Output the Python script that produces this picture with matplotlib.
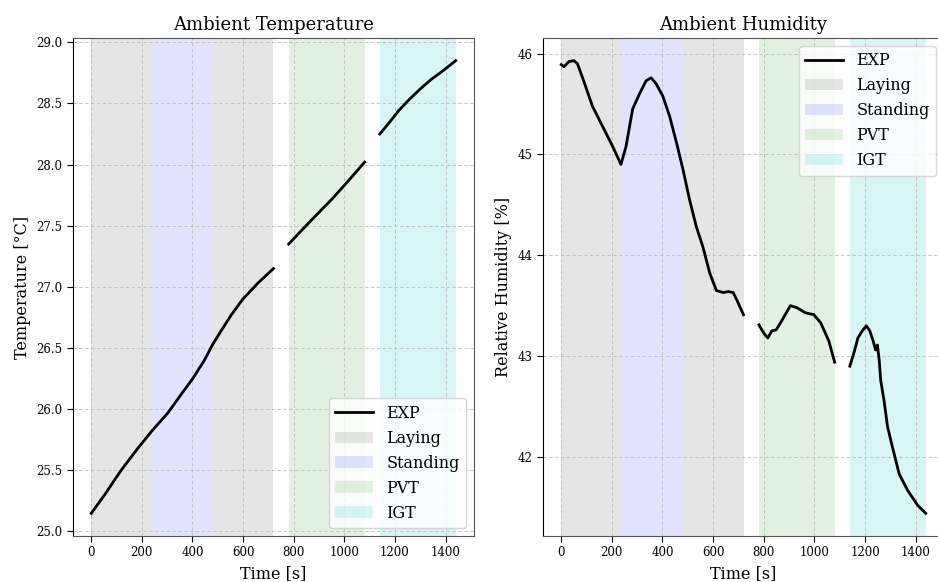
import numpy as np
import matplotlib
matplotlib.use("Agg")
import matplotlib.pyplot as plt

plt.rcParams['font.family'] = ['DejaVu Serif']

# fases do experimento (inicio, fim, nome, cor, alpha)
fases_ini = [0, 240, 480, 780, 1140]
fases_fim = [240, 480, 720, 1080, 1440]
fases_nome = ["Laying", "Standing", "Laying", "PVT", "IGT"]
fases_cor = ["gray", "blue", "gray", "green", "c"]
fases_alpha = [0.2, 0.11, 0.2, 0.11, 0.15]

# temperatura, tres trechos
temp_t1 = [0, 53, 118, 184, 243, 303, 355, 401, 447, 480, 513, 553, 599, 658, 720]
temp_v1 = [25.148, 25.30, 25.50, 25.68, 25.83, 25.97, 26.12, 26.25, 26.40, 26.53,
           26.64, 26.77, 26.90, 27.03, 27.15]
temp_t2 = [780, 830, 886, 952, 1017, 1080]
temp_v2 = [27.35, 27.46, 27.58, 27.72, 27.87, 28.02]
temp_t3 = [1140, 1180, 1214, 1260, 1306, 1345, 1385, 1440]
temp_v3 = [28.25, 28.35, 28.44, 28.54, 28.63, 28.70, 28.76, 28.85]

# umidade, tres trechos
umid_t1 = [0, 11, 30, 50, 64, 90, 123, 163, 203, 236, 256, 282, 309, 335, 355, 375,
           401, 428, 455, 481, 507, 534, 560, 587, 613, 640, 660, 679, 693, 720]
umid_v1 = [45.89, 45.87, 45.92, 45.93, 45.90, 45.72, 45.48, 45.28, 45.08, 44.90, 45.08,
           45.45, 45.60, 45.73, 45.76, 45.70, 45.58, 45.38, 45.12, 44.85, 44.55, 44.28,
           44.08, 43.82, 43.65, 43.63, 43.64, 43.63, 43.56, 43.41]
umid_t2 = [781, 799, 816, 832, 849, 871, 905, 931, 964, 998, 1025, 1057, 1080]
umid_v2 = [43.31, 43.23, 43.18, 43.25, 43.26, 43.35, 43.50, 43.48, 43.43, 43.41,
           43.33, 43.15, 42.94]
umid_t3 = [1140, 1156, 1172, 1189, 1205, 1219, 1232, 1242, 1249, 1256, 1262, 1275,
           1289, 1308, 1335, 1368, 1408, 1440]
umid_v3 = [42.90, 43.03, 43.18, 43.25, 43.30, 43.25, 43.15, 43.06, 43.11, 42.96,
           42.76, 42.56, 42.30, 42.10, 41.83, 41.67, 41.52, 41.44]


def desenhar(ax, trechos, titulo, ylabel, loc):
    for i in range(len(fases_ini)):
        # so a primeira fase "Laying" vai pra legenda
        rotulo = fases_nome[i] if fases_nome[i] not in fases_nome[:i] else None
        ax.axvspan(fases_ini[i], fases_fim[i], color=fases_cor[i],
                   alpha=fases_alpha[i], lw=0, label=rotulo)
    primeiro = True
    for t, v in trechos:
        ax.plot(t, v, color="black", lw=2, label="EXP" if primeiro else None,
                zorder=3, solid_joinstyle="round")
        primeiro = False
    ax.set_xlim(-72, 1512)
    ax.set_title(titulo, fontsize=13)
    ax.set_xlabel("Time [s]", fontsize=11.5)
    ax.set_ylabel(ylabel, fontsize=11.5)
    ax.grid(True, ls=(0, (4, 3)), color="#bbbbbb", lw=0.6)
    ax.tick_params(labelsize=8.5, direction="out", length=4)
    ax.set_xticks([0, 200, 400, 600, 800, 1000, 1200, 1400])
    h, l = ax.get_legend_handles_labels()
    ordem = [l.index("EXP"), l.index("Laying"), l.index("Standing"),
             l.index("PVT"), l.index("IGT")]
    ax.legend([h[k] for k in ordem], [l[k] for k in ordem], loc=loc, fontsize=11.5,
              handlelength=2.4)
    for lado in ["bottom", "right", "top"]:
        ax.spines[lado].set_color("#555555")


fig = plt.figure(figsize=(9.38, 5.82), dpi=100)
ax1 = fig.add_axes([0.0778, 0.079, 0.4275, 0.8557])
ax2 = fig.add_axes([0.5789, 0.079, 0.4275, 0.8557])

desenhar(ax1, [(temp_t1, temp_v1), (temp_t2, temp_v2), (temp_t3, temp_v3)],
         "Ambient Temperature", "Temperature [°C]", "lower right")
desenhar(ax2, [(umid_t1, umid_v1), (umid_t2, umid_v2), (umid_t3, umid_v3)],
         "Ambient Humidity", "Relative Humidity [%]", "upper right")
ax1.set_yticks([25.0, 25.5, 26.0, 26.5, 27.0, 27.5, 28.0, 28.5, 29.0])
ax2.set_yticks([42, 43, 44, 45, 46])

fig.savefig("out.png", dpi=100)
